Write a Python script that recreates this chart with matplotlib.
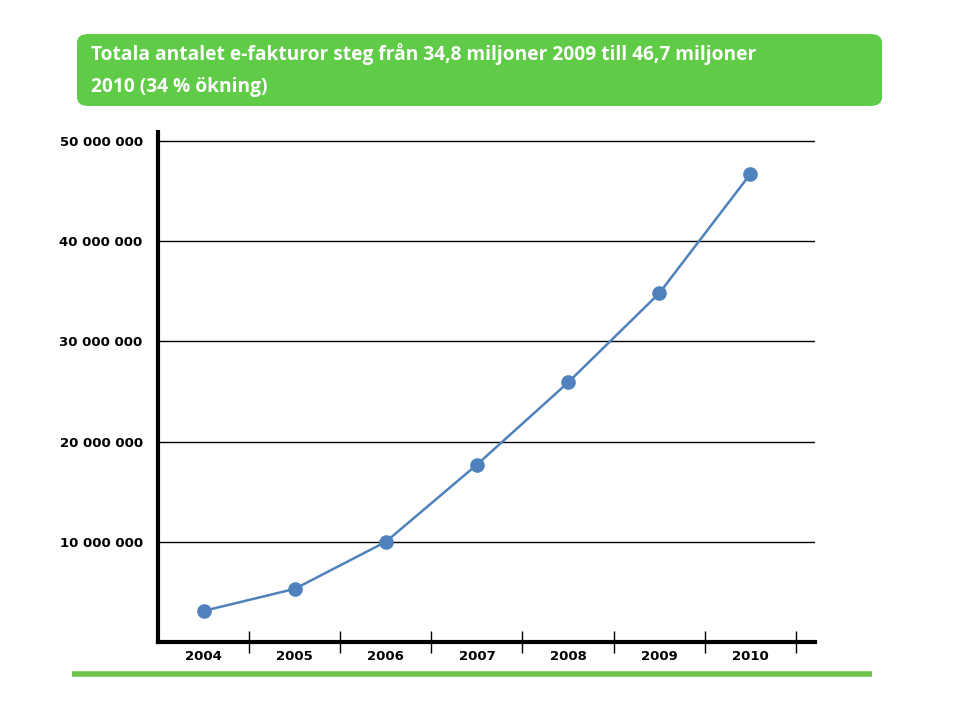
import matplotlib
matplotlib.use('Agg')
import matplotlib.pyplot as plt
from matplotlib.patches import FancyBboxPatch
from matplotlib.ticker import FuncFormatter

years = ['2004', '2005', '2006', '2007', '2008', '2009', '2010']
invoices = [3100000, 5300000, 10000000, 17700000, 25900000, 34800000, 46700000]
yticks = [10000000, 20000000, 30000000, 40000000, 50000000]
title = 'Totala antalet e-fakturor steg från 34,8 miljoner 2009 till 46,7 miljoner\n2010 (34 % ökning)'

fig = plt.figure(figsize=(9.6, 7.2), dpi=100)

# green title box
box = FancyBboxPatch((77/960, 1-106/720), (882-77)/960, (106-34)/720,
                     boxstyle='round,pad=0,rounding_size=0.012',
                     transform=fig.transFigure, facecolor='#5fcb47', edgecolor='none')
fig.patches.append(box)
fig.text(91/960, 1-70/720, title, color='white', fontsize=13.8, fontweight='bold',
         va='center', ha='left', linespacing=1.85, family='Open Sans')

# bottom green line
fig.add_artist(plt.Line2D([72/960, 872/960], [1-674/720, 1-674/720],
                          transform=fig.transFigure, color='#6cc24a', lw=4,
                          solid_capstyle='butt'))

ax = fig.add_axes([158/960, 1-642/720, (815-158)/960, (642-132)/720])
x = list(range(len(years)))
ax.plot(x, invoices, '-o', color='#4f81bd', lw=1.8, markersize=9.5, zorder=3)

ax.set_xlim(-0.5, 6.71)
ax.set_ylim(0, 50900000)

ax.set_yticks(yticks)
ax.yaxis.set_major_formatter(FuncFormatter(lambda v, p: '{:,}'.format(int(v)).replace(',', ' ')))
ax.grid(axis='y', color='black', lw=1)
ax.set_axisbelow(True)

ax.set_xticks([i + 0.5 for i in range(len(years))])
ax.set_xticklabels([])
ax.set_xticks(x, minor=True)
ax.set_xticklabels(years, minor=True)
ax.tick_params(axis='x', which='major', direction='inout', length=16, width=1, color='black')
ax.tick_params(axis='x', which='minor', length=0, pad=6)
ax.tick_params(axis='y', length=0, pad=11)

for label in ax.get_yticklabels() + ax.get_xticklabels(minor=True):
    label.set_fontsize(9.5)
    label.set_fontweight('bold')

for s in ['top', 'right']:
    ax.spines[s].set_visible(False)
ax.spines['left'].set_linewidth(3)
ax.spines['bottom'].set_linewidth(3)

fig.savefig('out.png', dpi=100)
